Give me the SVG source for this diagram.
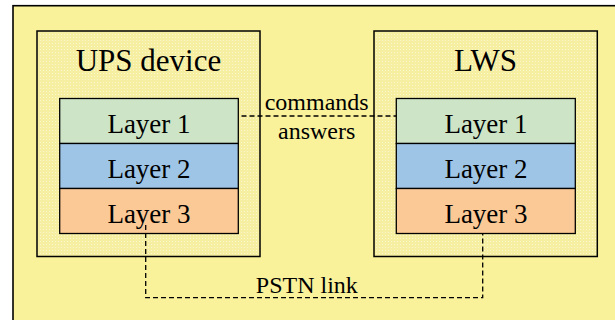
<svg xmlns="http://www.w3.org/2000/svg" width="615" height="320" viewBox="0 0 615 320">
<defs>
<pattern id="dots" width="3" height="3" patternUnits="userSpaceOnUse">
<rect width="3" height="3" fill="#F6EFA2"/>
<rect x="1" y="1" width="1" height="1" fill="#FBF7CC"/>
</pattern>
</defs>
<rect x="13" y="5.7" width="620" height="330" fill="#F9F29B" stroke="#000" stroke-width="1.6"/>
<g id="ups">
<rect x="37" y="31" width="223" height="225.5" fill="url(#dots)" stroke="#000" stroke-width="1.5"/>
<text x="148.5" y="70.7" font-family="Liberation Serif" font-size="31" text-anchor="middle">UPS device</text>
<g id="ups-layer1"><rect x="59.7" y="98.5" width="178.6" height="45" fill="#CDE5C6" stroke="#000" stroke-width="1.3"/><text x="149" y="133.3" font-family="Liberation Serif" font-size="27" text-anchor="middle">Layer 1</text></g>
<g id="ups-layer2"><rect x="59.7" y="143.5" width="178.6" height="45" fill="#9EC5E6" stroke="#000" stroke-width="1.3"/><text x="149" y="178.3" font-family="Liberation Serif" font-size="27" text-anchor="middle">Layer 2</text></g>
<g id="ups-layer3"><rect x="59.7" y="188.5" width="178.6" height="45" fill="#FBC995" stroke="#000" stroke-width="1.3"/><text x="149" y="223.3" font-family="Liberation Serif" font-size="27" text-anchor="middle">Layer 3</text></g>
</g>
<g id="lws">
<rect x="374" y="31" width="223.3" height="225.5" fill="url(#dots)" stroke="#000" stroke-width="1.5"/>
<text x="485.5" y="70.7" font-family="Liberation Serif" font-size="31" text-anchor="middle">LWS</text>
<g id="lws-layer1"><rect x="396.3" y="98.5" width="179" height="45" fill="#CDE5C6" stroke="#000" stroke-width="1.3"/><text x="486" y="133.3" font-family="Liberation Serif" font-size="27" text-anchor="middle">Layer 1</text></g>
<g id="lws-layer2"><rect x="396.3" y="143.5" width="179" height="45" fill="#9EC5E6" stroke="#000" stroke-width="1.3"/><text x="486" y="178.3" font-family="Liberation Serif" font-size="27" text-anchor="middle">Layer 2</text></g>
<g id="lws-layer3"><rect x="396.3" y="188.5" width="179" height="45" fill="#FBC995" stroke="#000" stroke-width="1.3"/><text x="486" y="223.3" font-family="Liberation Serif" font-size="27" text-anchor="middle">Layer 3</text></g>
</g>
<g id="connectors">
<path d="M241.5,116 H396.3" fill="none" stroke="#000" stroke-width="1.3" stroke-dasharray="5,3"/>
<path d="M145.7,225 V297.7 H482.7 V233.5" fill="none" stroke="#000" stroke-width="1.3" stroke-dasharray="5,3"/>
<text x="316.7" y="110" font-family="Liberation Serif" font-size="24" text-anchor="middle">commands</text>
<text x="316.7" y="139" font-family="Liberation Serif" font-size="24" text-anchor="middle">answers</text>
<text x="306.8" y="292.7" font-family="Liberation Serif" font-size="24" text-anchor="middle">PSTN link</text>
</g>
</svg>
